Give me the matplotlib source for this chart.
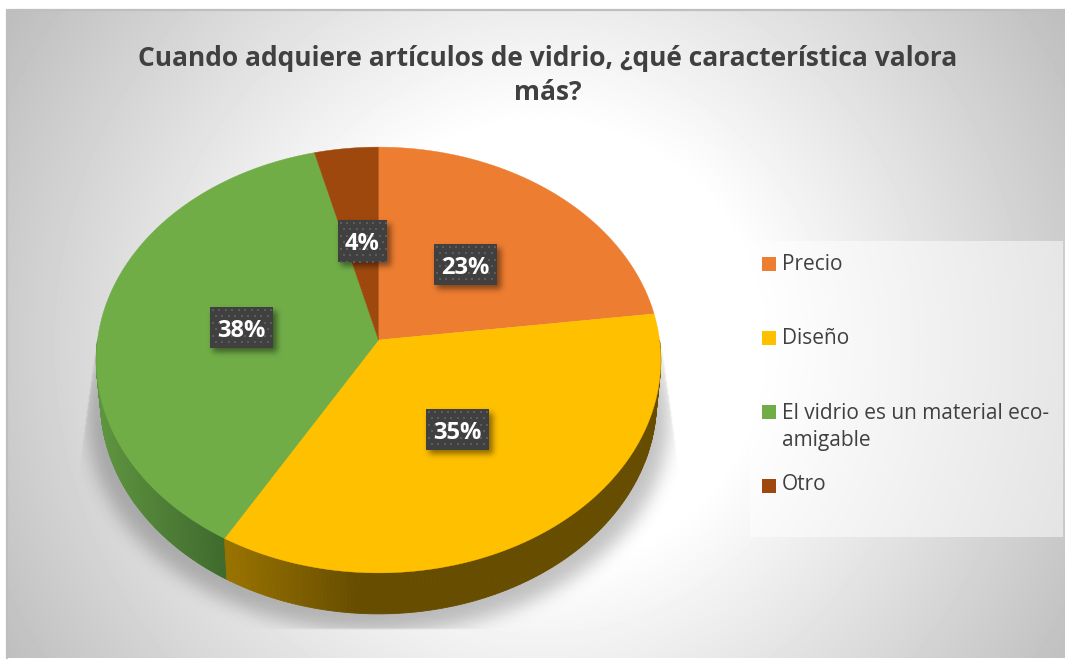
import numpy as np
import matplotlib
matplotlib.use('Agg')
import matplotlib.pyplot as plt
from matplotlib.path import Path
from matplotlib.patches import Rectangle

W, H = 1065, 659

title = "Cuando adquiere artículos de vidrio, ¿qué característica valora\nmás?"
categories = ["Precio", "Diseño", "El vidrio es un material eco-\namigable", "Otro"]
# unrounded shares, the chart only prints them as whole percents
values = [23.0, 35.4, 37.6, 4.0]
colors = ["#ED7D31", "#FFC000", "#70AD47", "#9E480E"]
label_boxes = [(434, 244, 63, 41), (426, 409, 63, 41), (210, 307, 63, 41), (338, 220, 49, 42)]
legend_y = [264, 338, 412, 486]
legend_text_y = [263, 337, 426, 484]

# pie geometry in pixels
cx, cy = 378.5, 340
a, b, k = 281, 211, 0.0939
depth = 41


def rim(t, shrink=1.0, drop=0.0):
    # t in radians clockwise from the top, perspective circle
    u, v = np.sin(t), np.cos(t)
    d = 1 + k * v
    return cx + shrink * a * u / d, cy - b * v / d + drop


def blur(img, sigma):
    r = int(3 * sigma)
    g = np.exp(-np.arange(-r, r + 1) ** 2 / (2.0 * sigma ** 2))
    g = g / g.sum()
    img = np.apply_along_axis(lambda m: np.convolve(m, g, mode='same'), 0, img)
    img = np.apply_along_axis(lambda m: np.convolve(m, g, mode='same'), 1, img)
    return img


def poly_mask(xs, ys):
    gx, gy = np.meshgrid(np.arange(W) + 0.5, np.arange(H) + 0.5)
    pts = np.column_stack([gx.ravel(), gy.ravel()])
    return Path(np.column_stack([xs, ys])).contains_points(pts).reshape(H, W).astype(float)


def black_layer(alpha):
    out = np.zeros((H, W, 4))
    out[..., 3] = alpha
    return out


fig = plt.figure(figsize=(W / 100, H / 100), dpi=100, facecolor='white')
ax = fig.add_axes([0, 0, 1, 1])
ax.set_xlim(0, W)
ax.set_ylim(H, 0)
ax.axis('off')
extent = [0, W, H, 0]

# background gradient
gx, gy = np.meshgrid(np.arange(W) + 0.5, np.arange(H) + 0.5)
r = np.sqrt((gx - 540) ** 2 + (gy - 345) ** 2) / 630.0
bg = 1 - 0.26 * np.clip((r - 0.35) / 0.65, 0, 1.2)
ax.imshow(bg, cmap='gray', vmin=0, vmax=1, extent=extent, aspect='auto', zorder=1)
ax.set_xlim(0, W)
ax.set_ylim(H, 0)
ax.add_patch(Rectangle((0, 0), 6, H, fc='white', ec='none', zorder=1.1))
ax.add_patch(Rectangle((0, 0), W, 9, fc='white', ec='none', zorder=1.1))
ax.add_patch(Rectangle((0, 658), W, 1, fc='white', ec='none', zorder=1.1))
ax.plot([6.8, 6.8, W], [H - 1, 10.2, 10.2], color='#BFBFBF', lw=1.6, zorder=1.2)

# pie shadow, clipped to the trapezoid office leaves around it
tt = np.linspace(0, 2 * np.pi, 361)
sx, sy = rim(tt, 1.03, depth + 18)
sh = blur(poly_mask(sx, sy), 9)
clip = poly_mask([97, 78, 78, 680, 680, 661], [340, 480, 629, 629, 480, 340])
clip = blur(clip, 0.8)
ax.imshow(black_layer(sh * clip * 0.24), extent=extent, aspect='auto', zorder=2)

# side wall then top face, angles come from the values
edges = np.cumsum([0] + values) / float(sum(values)) * 2 * np.pi
side_shades = {1: ((0.60, 0.45, 0.0), (0.40, 0.30, 0.0)),
               2: ((0.37, 0.58, 0.25), (0.24, 0.41, 0.17))}
for i in (2, 1):
    ts = np.linspace(max(edges[i], np.pi / 2), min(edges[i + 1], 3 * np.pi / 2), 160)
    for t0, t1 in zip(ts[:-1], ts[1:]):
        x0, y0 = rim(t0)
        x1, y1 = rim(t1)
        x2, y2 = rim(t1, 0.985, depth)
        x3, y3 = rim(t0, 0.985, depth)
        xm = (x0 + x1) / 2
        if i == 1:
            f = np.clip((xm - 228) / 130.0, 0, 1)
        else:
            f = np.clip((xm - 100) / 128.0, 0, 1)
        c0, c1 = side_shades[i]
        col = tuple(c0[j] + (c1[j] - c0[j]) * f for j in range(3))
        ax.fill([x0, x1, x2, x3], [y0, y1, y2, y3], color=col, lw=0.6, zorder=3)

for i, col in enumerate(colors):
    ts = np.linspace(edges[i], edges[i + 1], 200)
    xs, ys = rim(ts)
    ax.fill(np.r_[cx, xs], np.r_[cy, ys], color=col, lw=0.3, zorder=4)

# data labels
box_sh = np.zeros((H, W))
for x, y, w, h in label_boxes:
    box_sh[y + 4:y + h + 4, x + 3:x + w + 4] = 1
ax.imshow(black_layer(blur(box_sh, 3) * 0.45), extent=extent, aspect='auto', zorder=5)
for (x, y, w, h), v in zip(label_boxes, values):
    ax.add_patch(Rectangle((x, y), w, h, fc='#404040', ec='none', zorder=6))
    dx, dy = [], []
    for row, yy in enumerate(np.arange(y + 2.5, y + h, 6.5)):
        for xx in np.arange(x + 2.5 + (row % 2) * 3.2, x + w, 6.5):
            dx.append(xx)
            dy.append(yy)
    ax.scatter(dx, dy, s=2.5, marker='s', color='#5C5C5C', linewidths=0, zorder=6.5)
    ax.text(x + w / 2, y + h / 2 + 0.5, "%.0f%%" % v, color='white', fontsize=17, fontweight='bold',
            family='Open Sans', ha='center', va='center_baseline', zorder=7)

# legend
ax.add_patch(Rectangle((750, 241), 313, 296, fc='white', ec='none', alpha=0.5, zorder=2.5))
for cat, col, ys, yt in zip(categories, colors, legend_y, legend_text_y):
    ax.add_patch(Rectangle((762, ys - 7), 14, 14, fc=col, ec='none', zorder=3))
    ax.text(782, yt + 1, cat, color='#404040', fontsize=15, family='Open Sans',
            ha='left', va='center', linespacing=1.38, zorder=3)

ax.text(548, 75.5, title, color='#404040', fontsize=19, fontweight='bold', family='Open Sans',
        ha='center', va='center', linespacing=1.38, zorder=3)

fig.savefig('out.png', dpi=100)
